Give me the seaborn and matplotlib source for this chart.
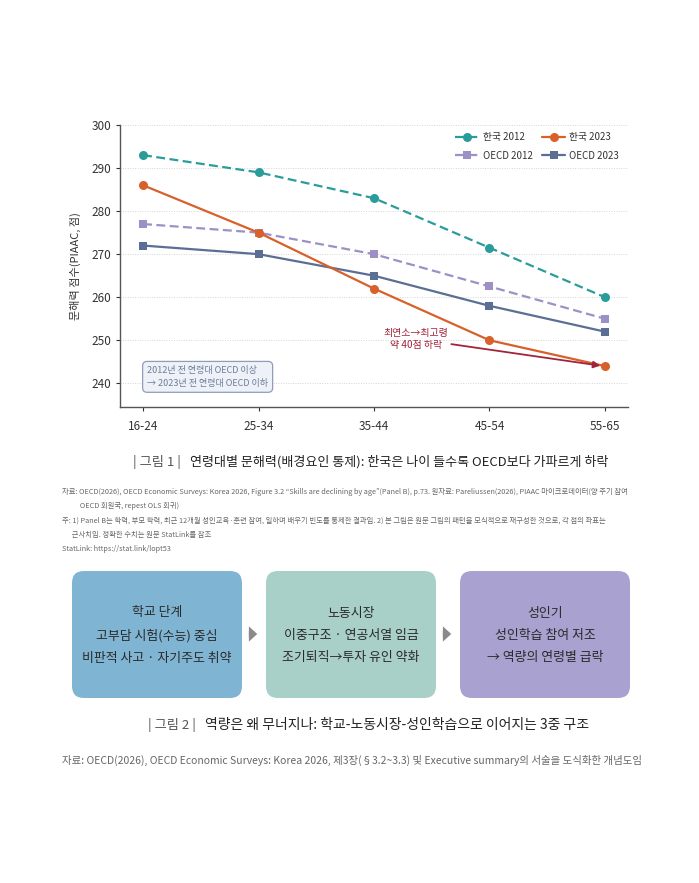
import matplotlib
matplotlib.use("Agg")
import matplotlib.pyplot as plt
from matplotlib.patches import FancyBboxPatch, FancyArrowPatch
import numpy as np
import pandas as pd
import seaborn as sns

# ---- data ----
age_groups = ["16-24", "25-34", "35-44", "45-54", "55-65"]
korea_2012 = [293, 289, 283, 271.5, 260]
korea_2023 = [286, 275, 262, 250, 244]
oecd_2012 = [277, 275, 270, 262.5, 255]
oecd_2023 = [272, 270, 265, 258, 252]
series_names = ["한국 2012", "OECD 2012", "한국 2023", "OECD 2023"]
y_ticks = [240, 250, 260, 270, 280, 290, 300]

box_texts = [
    "학교 단계\n고부담 시험(수능) 중심\n비판적 사고 · 자기주도 취약",
    "노동시장\n이중구조 · 연공서열 임금\n조기퇴직→투자 유인 약화",
    "성인기\n성인학습 참여 저조\n→ 역량의 연령별 급락",
]
box_colors = ["#80b4d3", "#a8cfc8", "#a9a1cf"]

title1_main = "연령대별 문해력(배경요인 통제): 한국은 나이 들수록 OECD보다 가파르게 하락"
title2_main = "역량은 왜 무너지나: 학교-노동시장-성인학습으로 이어지는 3중 구조"
notes1 = [
    "자료: OECD(2026), OECD Economic Surveys: Korea 2026, Figure 3.2 \u201cSkills are declining by age\u201d(Panel B), p.73. 원자료: Pareliussen(2026), PIAAC 마이크로데이터(양 주기 참여",
    "           OECD 회원국, repest OLS 회귀)",
    "주: 1) Panel B는 학력, 부모 학력, 최근 12개월 성인교육·훈련 참여, 일하며 배우기 빈도를 통제한 결과임. 2) 본 그림은 원문 그림의 패턴을 모식적으로 재구성한 것으로, 각 점의 좌표는",
    "      근사치임. 정확한 수치는 원문 StatLink를 참조",
    "StatLink: https://stat.link/lopt53",
]
note2 = "자료: OECD(2026), OECD Economic Surveys: Korea 2026, 제3장(§3.2~3.3) 및 Executive summary의 서술을 도식화한 개념도임"

sns.set_theme(style="white")
plt.rcParams["font.family"] = ["Noto Sans CJK KR", "DejaVu Sans"]
plt.rcParams["axes.unicode_minus"] = False

fig = plt.figure(figsize=(6.99, 8.83), dpi=100)
fig.patch.set_facecolor("white")

W, H = 699, 883
ax = fig.add_axes([120 / W, 1 - 407 / H, (628 - 120) / W, (407 - 125) / H])

pos = np.arange(len(age_groups))
df = pd.DataFrame({
    "pos": np.tile(pos, 4),
    "score": korea_2012 + oecd_2012 + korea_2023 + oecd_2023,
    "series": np.repeat(series_names, len(age_groups)),
})

styles = {
    "한국 2012": dict(color="#2a9d9b", ls=(0, (4, 2)), marker="o", ms=6.5),
    "OECD 2012": dict(color="#9d90c6", ls=(0, (4, 2)), marker="s", ms=5.5),
    "한국 2023": dict(color="#d8602a", ls="-", marker="o", ms=6.5),
    "OECD 2023": dict(color="#5b6f95", ls="-", marker="s", ms=5.5),
}
zorders = {"OECD 2012": 2, "OECD 2023": 3, "한국 2012": 4, "한국 2023": 5}
for name in series_names:
    st = styles[name]
    sub = df[df["series"] == name]
    sns.lineplot(data=sub, x="pos", y="score", ax=ax, color=st["color"],
                 linestyle=st["ls"], marker=st["marker"], markersize=st["ms"],
                 markeredgewidth=0, linewidth=1.6, label=name,
                 zorder=zorders[name])

ax.set_xlim(-0.2, 4.2)
ax.set_ylim(234.5, 300)
ax.set_xticks(pos)
ax.set_xticklabels(age_groups)
ax.set_yticks(y_ticks)
ax.tick_params(axis="both", labelsize=8.5, colors="#333333", length=3,
               width=0.8, direction="out", left=True, bottom=True, pad=3)
ax.tick_params(axis="x", pad=6)
for s in ["top", "right"]:
    ax.spines[s].set_visible(False)
for s in ["left", "bottom"]:
    ax.spines[s].set_color("#555555")
    ax.spines[s].set_linewidth(1.0)
ax.yaxis.grid(True, linestyle=(0, (1, 1.5)), color="#d5d5d5", linewidth=0.7)
ax.set_axisbelow(True)
ax.set_xlabel("")
ax.set_ylabel("문해력 점수(PIAAC, 점)", fontsize=8, color="#333333", labelpad=8)

leg = ax.legend(loc="upper right", ncol=2, frameon=False, fontsize=7,
                handlelength=2.4, columnspacing=1.0, handletextpad=0.4,
                labelspacing=0.85, bbox_to_anchor=(1.0, 1.005))
for t in leg.get_texts():
    t.set_color("#333333")

# annotation arrow
ax.annotate("", xy=(3.96, 244.1), xytext=(2.67, 249.1),
            arrowprops=dict(arrowstyle="-|>", color="#a3233a", lw=1.3,
                            mutation_scale=10, shrinkA=0, shrinkB=0), zorder=6)
ax.text(2.36, 250.3, "최연소→최고령\n약 40점 하락", ha="center", va="center",
        fontsize=7.2, color="#a3233a", linespacing=1.35)

ax.text(0.035, 241.5, "2012년 전 연령대 OECD 이상\n→ 2023년 전 연령대 OECD 이하",
        ha="left", va="center", fontsize=6.5, color="#6e7d9a", linespacing=1.55,
        bbox=dict(boxstyle="round,pad=0.5,rounding_size=0.5", fc="#eef2f8",
                  ec="#8f9db8", lw=0.9))

# ---- figure 1 captions ----
fig.text(133 / W, 1 - 462 / H, "| 그림 1 |", fontsize=9.5, color="#555555",
         va="center", ha="left")
fig.text(190 / W, 1 - 462 / H, title1_main, fontsize=9.4, color="#222222",
         va="center", ha="left")
note_y = [492, 506, 521, 535, 549]
for txt, yy in zip(notes1, note_y):
    fig.text(62 / W, 1 - yy / H, txt, fontsize=5.25, color="#666666",
             va="center", ha="left")

# ---- figure 2: concept boxes ----
ax2 = fig.add_axes([0, 0, 1, 1])
ax2.set_xlim(0, W)
ax2.set_ylim(H, 0)
ax2.axis("off")
box_x = [72, 266, 460]
box_w = 170
box_top, box_bot = 571, 698
for bx, txt, col in zip(box_x, box_texts, box_colors):
    patch = FancyBboxPatch((bx, box_top), box_w, box_bot - box_top,
                           boxstyle="round,pad=0,rounding_size=12",
                           fc=col, ec="none")
    ax2.add_patch(patch)
    ax2.text(bx + box_w / 2, (box_top + box_bot) / 2 + 1, txt, ha="center",
             va="center", fontsize=9.3, color="#2a2a2a", linespacing=1.9)
for ax_ in [253, 447]:
    arr = FancyArrowPatch((ax_ - 7, 634), (ax_ + 7, 634),
                          arrowstyle="simple,head_length=6,head_width=11,tail_width=4.5",
                          color="#8a8a8a", lw=0, mutation_scale=1)
    ax2.add_patch(arr)

fig.text(148 / W, 1 - 725 / H, "| 그림 2 |", fontsize=9.5, color="#555555",
         va="center", ha="left")
fig.text(205 / W, 1 - 725 / H, title2_main, fontsize=10, color="#222222",
         va="center", ha="left")
fig.text(62 / W, 1 - 760 / H, note2, fontsize=7.5, color="#666666",
         va="center", ha="left")

fig.savefig("out.png", dpi=100, facecolor="white")
